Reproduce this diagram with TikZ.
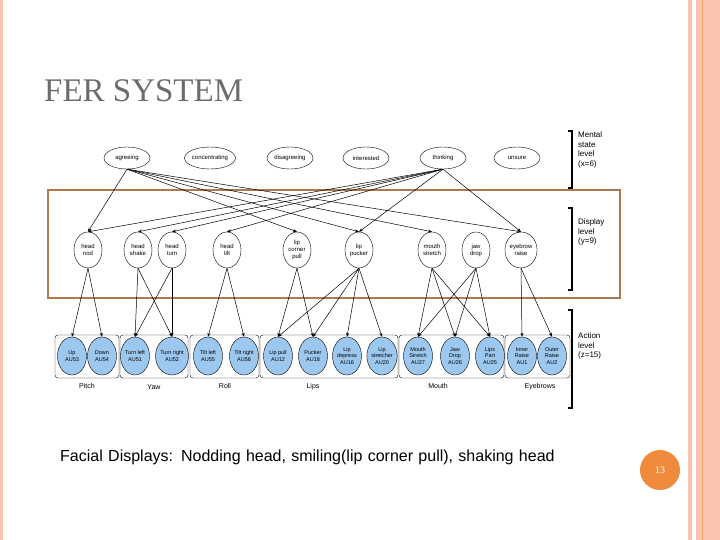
\documentclass[tikz,border=0pt]{standalone}
\usepackage{fontspec}
\setmainfont{Liberation Sans}
\newfontfamily\serifT{Liberation Serif}
\usetikzlibrary{arrows.meta,shapes.geometric}
\definecolor{pinkS}{HTML}{F8C4B0}
\definecolor{orangeS}{HTML}{F08A3C}
\definecolor{brownB}{HTML}{B07A50}
\definecolor{auBlue}{HTML}{9CC8F0}
\begin{document}
\begin{tikzpicture}[x=1pt,y=-1pt,
  ment/.style={draw,ellipse,minimum width=46pt,minimum height=22pt,inner sep=0pt,font=\fontsize{6}{7}\selectfont},
  disp/.style={draw,ellipse,minimum width=28pt,minimum height=36pt,inner sep=0pt,align=center,font=\fontsize{6}{7}\selectfont},
  au/.style={draw,ellipse,fill=auBlue,minimum width=29pt,minimum height=38pt,inner sep=0pt,align=center,font=\fontsize{5.5}{6.5}\selectfont},
  grp/.style={draw,rounded corners=3pt},
  arr/.style={-{Stealth[length=4pt,width=3pt]},line width=0.5pt},
  lbl/.style={font=\fontsize{8}{9.5}\selectfont,align=left,anchor=north west,inner sep=0pt},
  glbl/.style={font=\fontsize{7}{8}\selectfont}]
\useasboundingbox (0,0) rectangle (720,540);
\fill[white] (0,0) rectangle (720,540);
% slide decorations
\fill[pinkS] (688,0) rectangle (692,540);
\fill[pinkS] (696,0) rectangle (720,540);
\draw[orangeS!80,line width=0.6pt] (702,0) -- (702,540);
\fill[pinkS] (0,0) rectangle (3,540);
\node[anchor=west,font=\serifT\fontsize{33}{36}\selectfont,text=gray!85!black,inner sep=0pt] (title) at (44,91) {FER SYSTEM};
\node[circle,fill=orangeS,minimum size=40pt,inner sep=0pt,text=white,font=\serifT\fontsize{10}{11}\selectfont] (pg) at (660,470) {13};
\node[anchor=north west,text width=515pt,align=left,inner sep=0pt,font=\fontsize{16}{22}\selectfont] (cap) at (60,450) {Facial Displays: Nodding head, smiling(lip corner pull), shaking head};
% display box
\draw[brownB,line width=1.2pt] (48,190) rectangle (620,298);
% mental
\node[ment] (m1) at (127,158) {agreeing};
\node[ment] (m2) at (210,158) {concentrating};
\node[ment] (m3) at (290,158) {disagreeing};
\node[ment] (m4) at (366,158) {interested};
\node[ment] (m5) at (443,158) {thinking};
\node[ment] (m6) at (517,158) {unsure};
% display
\node[disp] (d1) at (88,250) {head\\nod};
\node[disp] (d2) at (138,250) {head\\shake};
\node[disp] (d3) at (172,250) {head\\turn};
\node[disp] (d4) at (227,250) {head\\tilt};
\node[disp] (d5) at (297,250) {lip\\corner\\pull};
\node[disp] (d6) at (359,250) {lip\\pucker};
\node[disp] (d7) at (432,250) {mouth\\stretch};
\node[disp] (d8) at (476,250) {jaw\\drop};
\node[disp] (d9) at (521,250) {eyebrow\\raise};
% groups
\draw[grp] (55,335) rectangle (119,378);
\draw[grp] (120,335) rectangle (188,378);
\draw[grp] (190,335) rectangle (259,378);
\draw[grp] (260,335) rectangle (398,378);
\draw[grp] (399,335) rectangle (504,378);
\draw[grp] (505,335) rectangle (570,378);
\node[glbl] (g1) at (87,386) {Pitch};
\node[glbl] (g2) at (154,387) {Yaw};
\node[glbl] (g3) at (225,386) {Roll};
\node[glbl] (g4) at (313,387) {Lips};
\node[glbl] (g5) at (438,386) {Mouth};
\node[glbl] (g6) at (540,387) {Eyebrows};
% AU
\node[au] (a1) at (72,356) {Up\\AU53};
\node[au] (a2) at (102,356) {Down\\AU54};
\node[au] (a3) at (135,356) {Turn left\\AU51};
\node[au] (a4) at (172,356) {Turn right\\AU52};
\node[au] (a5) at (208,356) {Tilt left\\AU55};
\node[au] (a6) at (244,356) {Tilt right\\AU56};
\node[au] (a7) at (278,356) {Lip pull\\AU12};
\node[au] (a8) at (313,356) {Pucker\\AU18};
\node[au] (a9) at (347,356) {Lip\\depress\\AU16};
\node[au] (a10) at (382,356) {Lip\\stretcher\\AU20};
\node[au] (a11) at (418,356) {Mouth\\Stretch\\AU27};
\node[au] (a12) at (455,356) {Jaw\\Drop\\AU26};
\node[au] (a13) at (490,356) {Lips\\Part\\AU25};
\node[au] (a14) at (522,356) {Inner\\Raise\\AU1};
\node[au] (a15) at (552,356) {Outer\\Raise\\AU2};
% mental -> display
\foreach \d in {d1,d5,d6,d7,d9} \draw[arr] (m1.south) -- (\d.north);
\foreach \d in {d1,d2,d3,d4,d6,d9} \draw[arr] (m5.south) -- (\d.north);
% display -> AU
\foreach \s/\t in {d1/a1,d1/a2,d2/a3,d2/a4,d3/a3,d3/a4,d4/a5,d4/a6,d5/a7,d5/a8,d6/a7,d6/a8,d6/a9,d6/a10,d7/a11,d7/a12,d7/a13,d8/a11,d8/a12,d8/a13,d9/a14,d9/a15}
  \draw[arr] (\s.south) -- (\t.north);
% level brackets
\draw[line width=1.5pt] (568,131) -- (572,131) -- (572,188) -- (568,188);
\draw[line width=1.5pt] (568,208) -- (572,208) -- (572,290) -- (568,290);
\draw[line width=1.5pt] (568,310) -- (572,310) -- (572,408) -- (568,408);
\node[lbl] (l1) at (578,132) {Mental\\state\\level\\(x=6)};
\node[lbl] (l2) at (578,219) {Display\\level\\(y=9)};
\node[lbl] (l3) at (578,333) {Action\\level\\(z=15)};
\end{tikzpicture}
\end{document}
